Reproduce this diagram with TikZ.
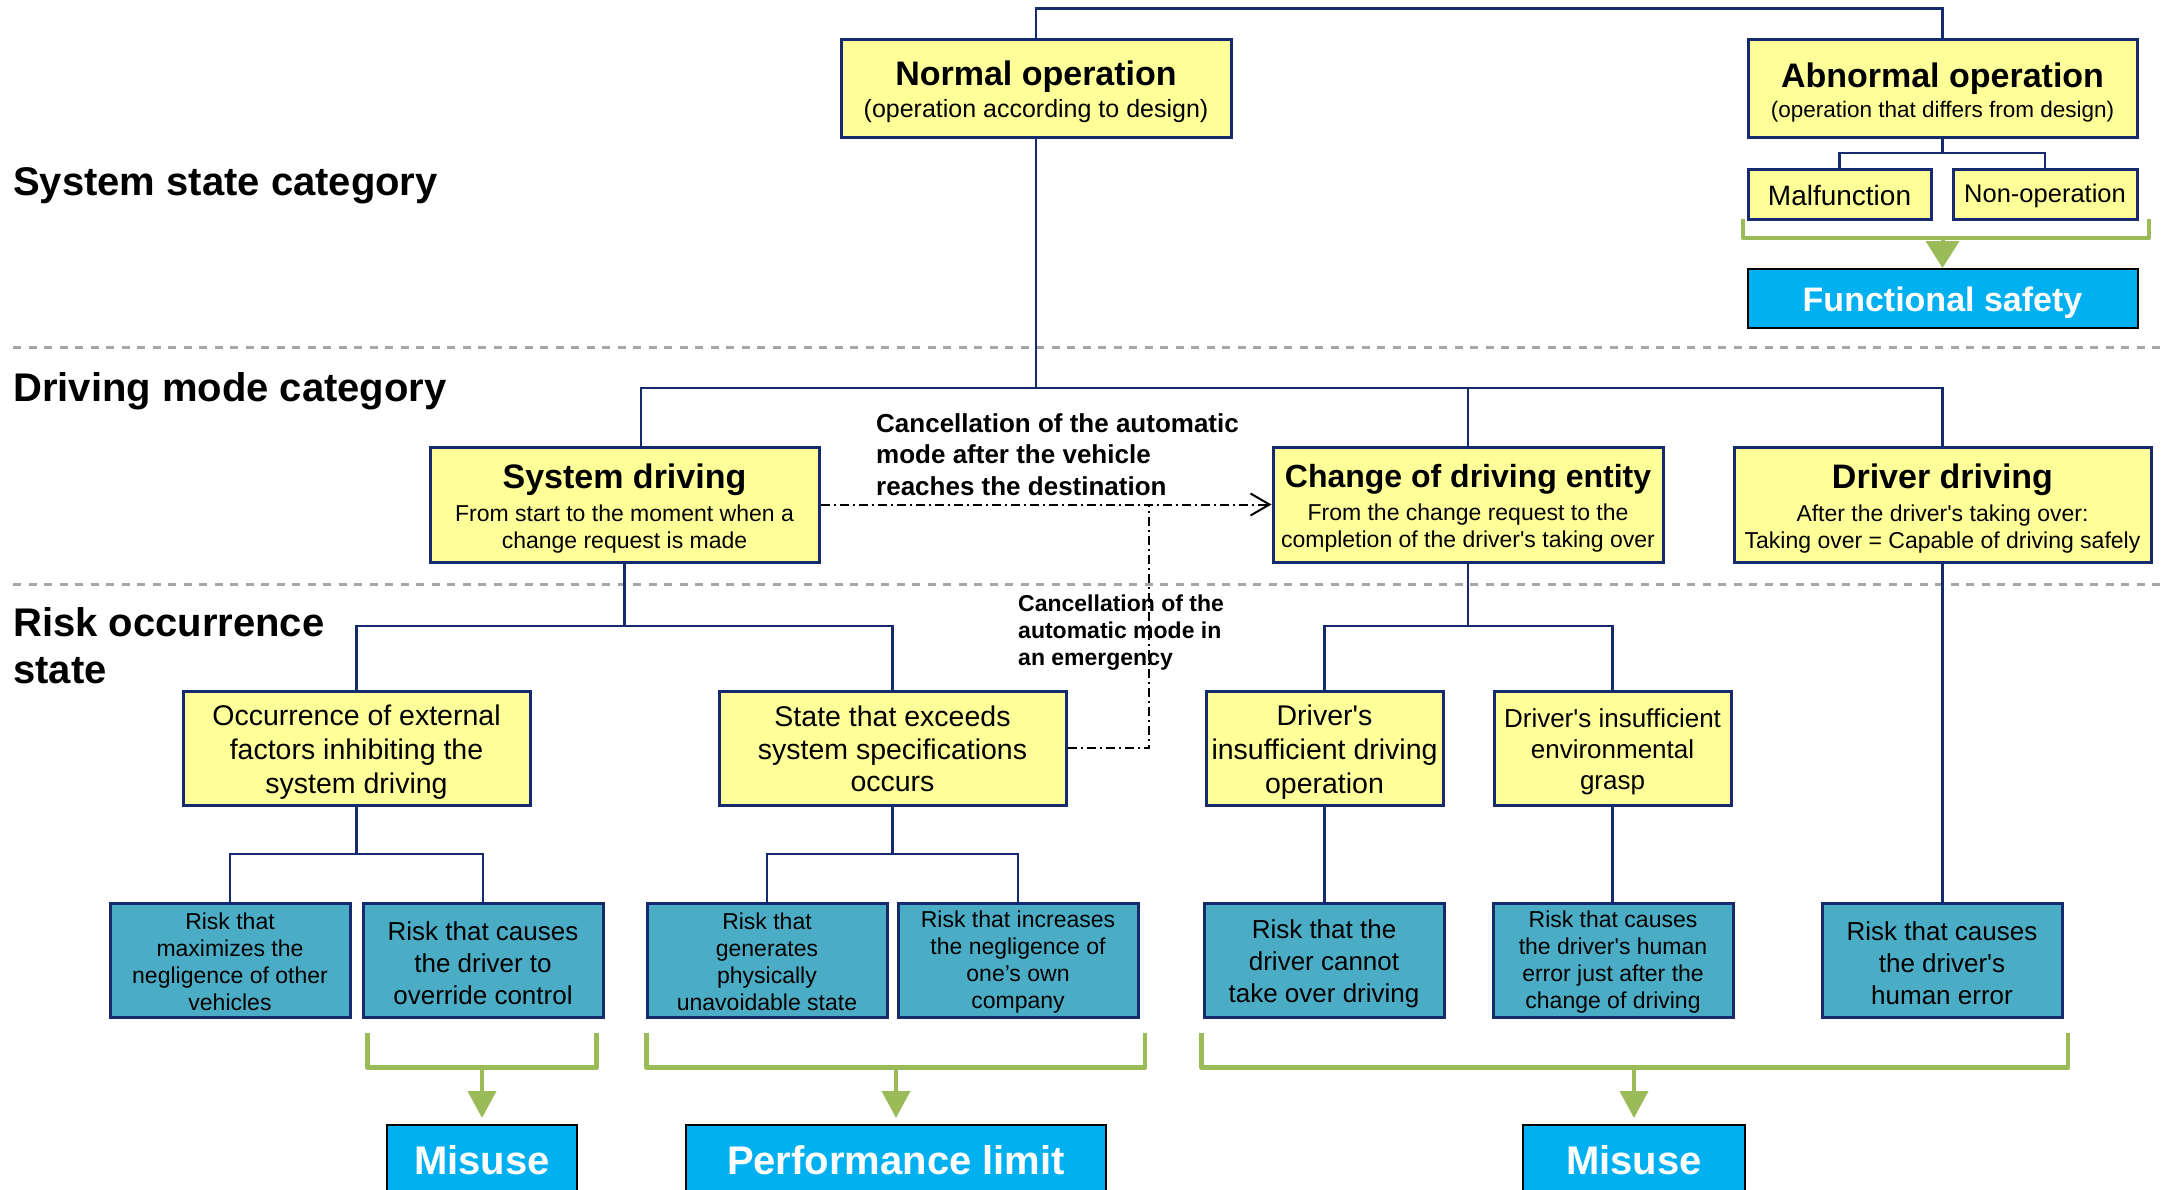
\documentclass[tikz,border=0pt]{standalone}
\usepackage{fontspec}
\setmainfont{Liberation Sans}
\usetikzlibrary{arrows.meta}
\definecolor{linknavy}{RGB}{22,42,112}
\definecolor{boxyellow}{RGB}{255,255,153}
\definecolor{riskteal}{RGB}{75,172,198}
\definecolor{resultblue}{RGB}{0,176,240}
\definecolor{bracegreen}{RGB}{155,187,89}
\definecolor{sepgray}{RGB}{166,166,166}
\newcommand\fsz[2]{\fontsize{#1}{#2}\selectfont}
% invisible strut that pushes a box's text block slightly downwards
\newcommand\tg[1][8pt]{\rule{0pt}{\dimexpr0.74em+#1\relax}}
\newcommand\sq{\textquotesingle}

\begin{document}
\begin{tikzpicture}[x=1pt,y=-1pt,
  box/.style={draw=linknavy, line width=3pt, fill=boxyellow, align=center, inner sep=0pt},
  riskbox/.style={box, fill=riskteal},
  resultbox/.style={draw=black, line width=2pt, fill=resultblue, text=white, inner sep=0pt, font=\fsz{34}{40}\bfseries},
  link/.style={draw=linknavy, line width=2.5pt},
  brace/.style={draw=bracegreen, line width=4.5pt, line join=round},
  flow/.style={draw=bracegreen, line width=4pt},
  sep/.style={draw=sepgray, line width=3pt, dash pattern=on 8pt off 7.5pt},
  dd/.style={draw=black, line width=2pt, dash pattern=on 9pt off 4pt on 2pt off 4pt},
  category/.style={font=\fsz{40}{47}\bfseries, inner sep=0pt, align=left},
  note/.style={inner sep=0pt, align=left}
]
\useasboundingbox (0,0) rectangle (2163,1189);
\clip (0,0) rectangle (2163,1189);
\fill[white] (0,0) rectangle (2163,1189);

% section separators
\draw[sep] (13,347) -- (2163,347);
\draw[sep] (13,584) -- (2163,584);

% section headings
\node[category, anchor=base west] (hsys) at (13,195) {System state category};
\node[category, anchor=base west] (hmode) at (13,401) {Driving mode category};
\node[category, anchor=north west] (hrisk) at (13,607) {Risk occurrence\\state};

% system state level
\node[box, minimum width=390pt, minimum height=98pt, font=\fsz{25}{30}] (normal) at (1036,88)
  {{\fsz{34}{34}\bfseries\tg Normal operation}\\[2pt](operation according to design)};
\node[box, minimum width=389pt, minimum height=98pt, font=\fsz{22.5}{26}] (abnormal) at (1942.5,88)
  {{\fsz{34}{34}\bfseries\tg Abnormal operation}\\[4pt](operation that differs from design)};
\node[box, minimum width=183pt, minimum height=50pt, font=\fsz{28}{32}] (malf) at (1839.5,194) {\tg[2pt]Malfunction};
\node[box, minimum width=184pt, minimum height=50pt, font=\fsz{25.5}{30}] (nonop) at (2045,194) {\tg[3pt]Non-operation};
\node[resultbox, minimum width=390pt, minimum height=59pt] (fsafe) at (1942.5,298.5) {\tg Functional safety};

% driving mode level
\node[box, minimum width=389pt, minimum height=115pt, font=\fsz{23}{27}] (sysdrv) at (624.5,504.5)
  {{\fsz{34}{34}\bfseries\tg System driving}\\[6pt]From start to the moment when a\\change request is made};
\node[box, minimum width=390pt, minimum height=115pt, font=\fsz{23}{27}] (chg) at (1468,504.5)
  {{\fsz{32}{32}\bfseries\tg Change of driving entity}\\[6pt]From the change request to the\\completion of the driver\sq s taking over};
\node[box, minimum width=417pt, minimum height=115pt, font=\fsz{23}{27}] (drv) at (1942.5,504.5)
  {{\fsz{34}{34}\bfseries\tg Driver driving}\\[6pt]After the driver\sq s taking over:\\Taking over = Capable of driving safely};

% risk occurrence level
\node[box, minimum width=347pt, minimum height=114pt, font=\fsz{28.5}{34}] (occ) at (356.5,748)
  {\tg Occurrence of external\\factors inhibiting the\\system driving};
\node[box, minimum width=347pt, minimum height=114pt, font=\fsz{28.5}{32.5}] (st) at (892.5,748)
  {\tg[2pt]State that exceeds\\system specifications\\occurs};
\node[box, minimum width=237pt, minimum height=114pt, font=\fsz{28.5}{34}] (dio) at (1324.5,748)
  {\tg Driver\sq s\\insufficient driving\\operation};
\node[box, minimum width=237pt, minimum height=114pt, font=\fsz{26}{31}] (deg) at (1612.5,748)
  {\tg Driver\sq s insufficient\\environmental\\grasp};

% risks
\node[riskbox, minimum width=240pt, minimum height=114pt, font=\fsz{23}{27}] (r1) at (230,960)
  {\tg[4pt]Risk that\\maximizes the\\negligence of other\\vehicles};
\node[riskbox, minimum width=240pt, minimum height=114pt, font=\fsz{26}{32}] (r2) at (483,960)
  {\tg[5pt]Risk that causes\\the driver to\\override control};
\node[riskbox, minimum width=240pt, minimum height=114pt, font=\fsz{23}{27}] (r3) at (767,960)
  {\tg[4pt]Risk that\\generates\\physically\\unavoidable state};
\node[riskbox, minimum width=240pt, minimum height=114pt, font=\fsz{23}{27}] (r4) at (1018,960)
  {\tg[4pt]Risk that increases\\the negligence of\\one’s own\\company};
\node[riskbox, minimum width=240pt, minimum height=114pt, font=\fsz{26}{32}] (r5) at (1324,960)
  {\tg[7pt]Risk that the\\driver cannot\\take over driving};
\node[riskbox, minimum width=240pt, minimum height=114pt, font=\fsz{23}{27}] (r6) at (1613,960)
  {\tg[4pt]Risk that causes\\the driver\sq s human\\error just after the\\change of driving};
\node[riskbox, minimum width=240pt, minimum height=114pt, font=\fsz{26}{32}] (r7) at (1942,960)
  {\tg[5pt]Risk that causes\\the driver\sq s\\human error};

% outcome categories
\node[resultbox, minimum width=190pt, minimum height=70pt, font=\fsz{40}{46}\bfseries] (mis1) at (482,1160) {Misuse};
\node[resultbox, minimum width=420pt, minimum height=70pt, font=\fsz{40}{46}\bfseries] (perf) at (896,1160) {Performance limit};
\node[resultbox, minimum width=222pt, minimum height=70pt, font=\fsz{40}{46}\bfseries] (mis2) at (1634,1160) {Misuse};

% tree connectors
\draw[link] (normal.north) -- ++(0,-29) -| (abnormal.north);
\coordinate (busA) at (1942.5,153);
\draw[link] (abnormal.south) -- (busA);
\draw[link] (malf.north) |- (busA) -| (nonop.north);

\coordinate (bus2) at (1036,388);
\draw[link] (normal.south) -- (bus2);
\draw[link] ([xshift=16.5pt]sysdrv.north) |- (bus2) -| (drv.north);
\draw[link] (chg.north) -- (chg.north |- bus2);

\coordinate (bus3a) at (624.5,626);
\coordinate (bus3b) at (1468,626);
\draw[link] (sysdrv.south) -- (bus3a);
\draw[link] (occ.north) |- (bus3a) -| (st.north);
\draw[link] (chg.south) -- (bus3b);
\draw[link] (dio.north) |- (bus3b) -| (deg.north);
\draw[link] (drv.south) -- (drv.south |- r7.north);

\coordinate (bus4a) at (356.5,854);
\coordinate (bus4b) at (892.5,854);
\draw[link] (occ.south) -- (bus4a);
\draw[link] (r1.north) |- (bus4a) -| (r2.north);
\draw[link] (st.south) -- (bus4b);
\draw[link] (r3.north) |- (bus4b) -| (r4.north);
\draw[link] (dio.south) -- (dio.south |- r5.north);
\draw[link] (deg.south) -- (deg.south |- r6.north);

% automatic-mode cancellation paths
\coordinate (junc) at (1149,504.5);
\draw[dd, -{Straight Barb[length=19pt,width=22pt]}] (sysdrv.east) -- (chg.west);
\draw[dd] (st.east) -| (junc);
\node[note, anchor=north west, font=\fsz{26}{31.5}\bfseries] (lblA) at (876,413)
  {Cancellation of the automatic\\mode after the vehicle\\reaches the destination};
\node[note, anchor=north west, font=\fsz{23}{27}\bfseries] (lblB) at (1018,595)
  {Cancellation of the\\automatic mode in\\an emergency};

% grouping brackets
\draw[brace] (1743,219) -- (1743,238) -- (2149,238) -- (2149,219);
\coordinate (gA) at (1942.5,240);
\draw[flow, -{Triangle[length=27pt,width=33pt]}] (gA) -- (fsafe.north);

\draw[brace] (367.5,1033) -- (367.5,1067.5) -- (596.5,1067.5) -- (596.5,1033);
\draw[brace] (646.5,1033) -- (646.5,1067.5) -- (1145,1067.5) -- (1145,1033);
\draw[brace] (1201.5,1033) -- (1201.5,1067.5) -- (2068,1067.5) -- (2068,1033);
\coordinate (g1) at (482,1070);
\coordinate (g2) at (896,1070);
\coordinate (g3) at (1634,1070);
\draw[flow, -{Triangle[length=27pt,width=28pt]}, shorten >=6pt] (g1) -- (mis1.north);
\draw[flow, -{Triangle[length=27pt,width=28pt]}, shorten >=6pt] (g2) -- (perf.north);
\draw[flow, -{Triangle[length=27pt,width=28pt]}, shorten >=6pt] (g3) -- (mis2.north);
\end{tikzpicture}
\end{document}
